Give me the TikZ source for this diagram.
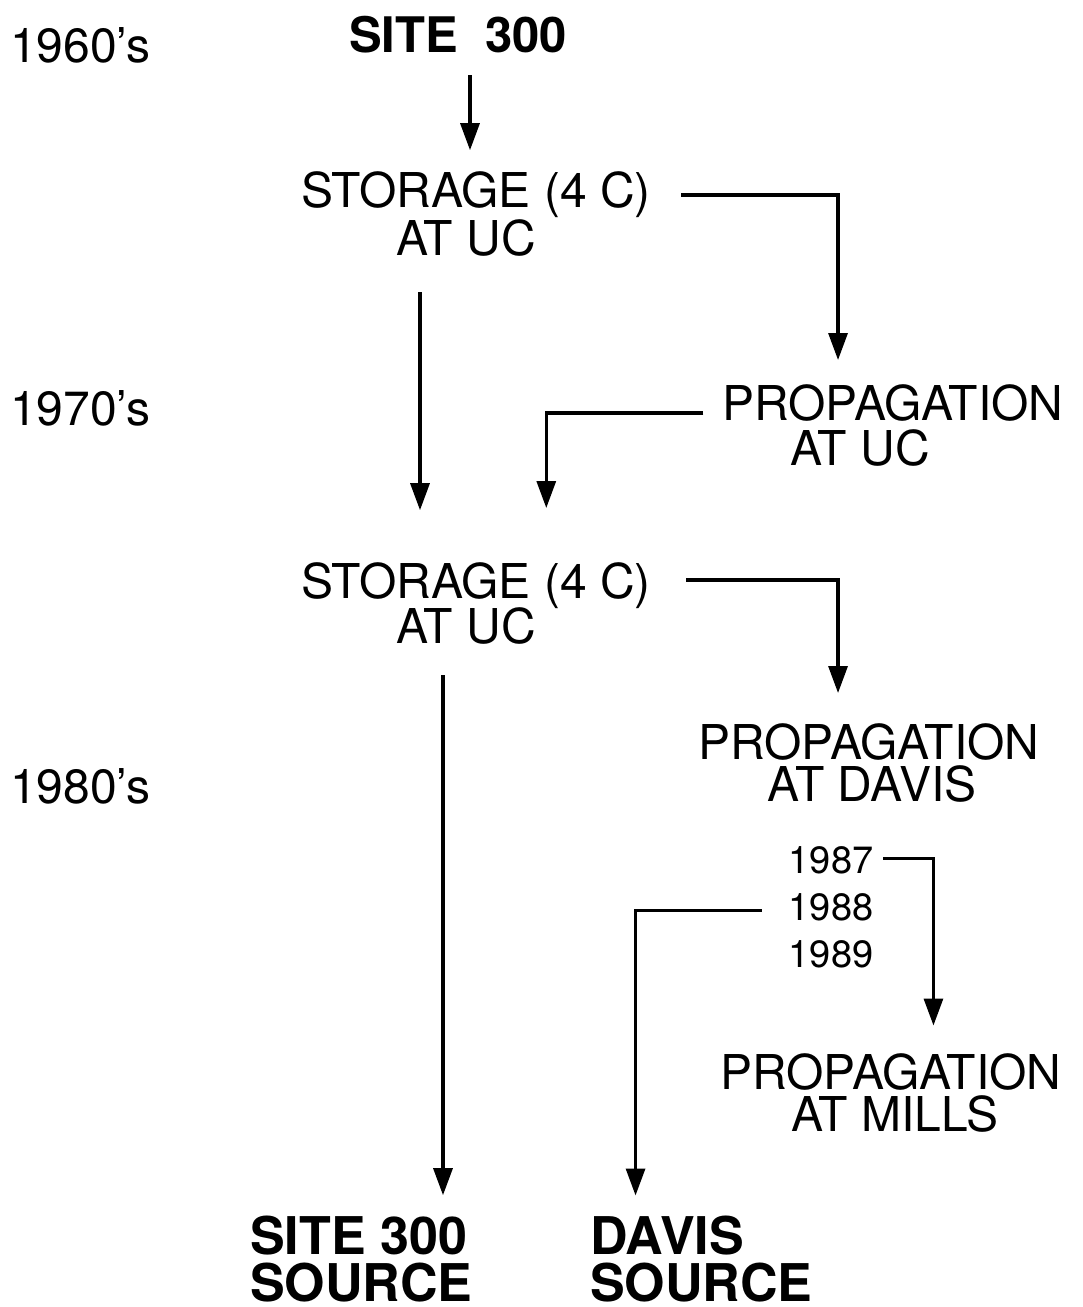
\documentclass[tikz,border=0pt]{standalone}
\usepackage{fontspec}
\setmainfont{TeX Gyre Heros}
\usetikzlibrary{arrows.meta}
\begin{document}
\begin{tikzpicture}[x=1pt,y=-1pt,
  lbl/.style={inner sep=0pt, anchor=base, font=\fontsize{48}{48}\selectfont, text height=34pt, text depth=0pt},
  lblw/.style={lbl, anchor=base west},
  yr/.style={lbl, font=\fontsize{38}{38}\selectfont, text height=27pt},
  hd/.style={lbl, anchor=base west, font=\fontsize{52}{52}\selectfont\bfseries, text height=37pt},
  arr/.style={line width=3.2pt, -{Triangle[width=19pt,length=27pt]}}]
\useasboundingbox (0,0) rectangle (1083,1307);
% decade labels
\node[lblw] (d60) at (10,62) {1960's};
\node[lblw] (d70) at (10,425) {1970's};
\node[lblw] (d80) at (10,803) {1980's};
% nodes
\node[lbl, font=\fontsize{49}{49}\selectfont\bfseries, text height=35pt] (site) at (458,52) {SITE\ \ 300};
\node[lbl] (sto1a) at (476,207) {STORAGE (4 C)};
\node[lbl] (sto1b) at (466,255) {AT UC};
\node[lbl] (prop1a) at (893,420) {PROPAGATION};
\node[lbl] (prop1b) at (860,465) {AT UC};
\node[lbl] (sto2a) at (476,598) {STORAGE (4 C)};
\node[lbl] (sto2b) at (466,643) {AT UC};
\node[lbl] (prop2a) at (869,759) {PROPAGATION};
\node[lbl] (prop2b) at (872,801) {AT DAVIS};
\node[yr] (y87) at (831,873) {1987};
\node[yr] (y88) at (831,920) {1988};
\node[yr] (y89) at (831,967) {1989};
\node[lbl] (prop3a) at (891,1089) {PROPAGATION};
\node[lbl] (prop3b) at (895,1131) {AT MILLS};
\node[hd] (src1a) at (250,1254) {SITE 300};
\node[hd] (src1b) at (250,1301) {SOURCE};
\node[hd] (src2a) at (590,1254) {DAVIS};
\node[hd] (src2b) at (590,1301) {SOURCE};
% connectors
\draw[arr] (site.south) ++(12,23) -- ++(0,75);
\draw[arr] (sto1a.east) ++(30,5) -- ++(157,0) -- ++(0,165);
\draw[arr] (sto1b.south) ++(-46,37) -- ++(0,218);
\draw[arr] (prop1a.west) ++(-19,10) -- ++(-157,0) -- ++(0,95);
\draw[arr] (sto2a.east) ++(35,-1) -- ++(152,0) -- ++(0,113);
\draw[arr] (sto2b.south) ++(-23,32) -- ++(0,520);
\draw[arr] (y87.east) ++(10,-1) -- ++(50,0) -- ++(0,167);
\draw[arr] (y88.west) ++(-27,4) -- ++(-126,0) -- ++(0,285);
\end{tikzpicture}
\end{document}
